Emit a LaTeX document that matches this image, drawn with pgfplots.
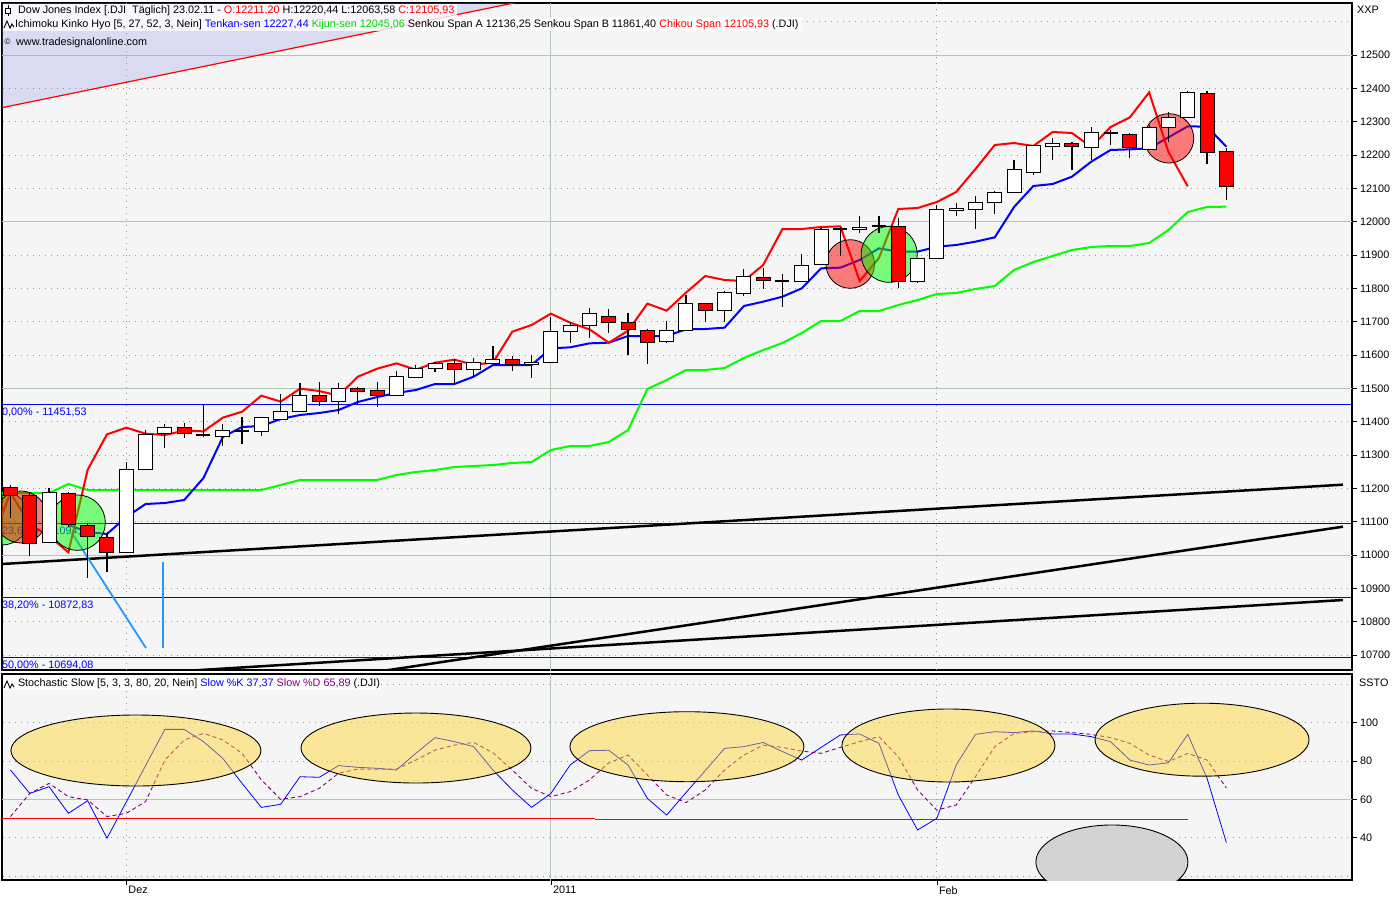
\documentclass[border=0pt]{standalone}
\usepackage{fontspec}
\setmainfont{Liberation Sans}
\usepackage{pgfplots}
\pgfplotsset{compat=1.18}
\usepackage{pgfplotstable}

\definecolor{bgc}{RGB}{245,245,245}
\definecolor{gridc}{RGB}{178,198,178}
\definecolor{dotc}{RGB}{150,150,150}
\definecolor{kijun}{RGB}{0,255,0}
\definecolor{kijuntext}{RGB}{0,215,0}
\definecolor{lav}{RGB}{140,140,230}
\definecolor{lblue}{RGB}{40,150,255}
\definecolor{ellc}{RGB}{255,213,40}
\definecolor{grayell}{RGB}{211,211,211}
\definecolor{dpurple}{RGB}{128,0,128}
\definecolor{fibblue}{RGB}{0,0,255}

\newcommand\fs{\fontsize{10.8}{12}\selectfont}

\pgfdeclareplotmark{mwick}{\pgfpathmoveto{\pgfpointorigin}\pgfpathlineto{\pgfpoint{0pt}{-\wl}}\pgfusepathqstroke}
\pgfdeclareplotmark{mbody}{\pgfpathrectangle{\pgfpoint{-7pt}{0pt}}{\pgfpoint{14pt}{-\bh}}\pgfusepathqfillstroke}
\pgfdeclareplotmark{mdoji}{\pgfpathmoveto{\pgfpoint{-7pt}{0pt}}\pgfpathlineto{\pgfpoint{7pt}{0pt}}\pgfusepathqstroke}

\pgfplotsset{
  cwick/.style={scatter, only marks, mark=mwick, point meta=\thisrow{H},
    scatter/@pre marker code/.code={}, scatter/@post marker code/.code={},
    visualization depends on={(\thisrow{H}-\thisrow{L})/3 \as \wl},
    mark options={draw=black, line width=1.2pt}},
  cbody/.style={scatter, only marks, mark=mbody, point meta=\thisrow{C},
    scatter/@pre marker code/.code={}, scatter/@post marker code/.code={},
    visualization depends on={max(abs(\thisrow{C}-\thisrow{O})/3,1.5) \as \bh},
    mark options={draw=black, fill=#1, line width=1pt}},
  cdoji/.style={scatter, only marks, mark=mdoji, point meta=\thisrow{C},
    scatter/@pre marker code/.code={}, scatter/@post marker code/.code={},
    mark options={draw=black, line width=2pt}},
}

% Candles: index 0 = 1 Dec 2010
\pgfplotstableread{
i O H L C
-4 11037 11200 11036 11187
0 11008 11278 11008 11256
1 11256 11376 11256 11362
2 11364 11392 11320 11382
5 11355 11392 11327 11373
7 11372 11415 11357 11412
8 11407 11482 11407 11430
9 11430 11515 11428 11478
11 11460 11517 11424 11499
14 11478 11551 11478 11535
15 11532 11569 11530 11559
16 11559 11580 11550 11575
18 11556 11592 11537 11577
19 11574 11627 11574 11586
21 11571 11599 11531 11577
22 11577 11713 11577 11670
23 11670 11699 11637 11690
24 11689 11742 11651 11724
28 11640 11703 11637 11673
29 11673 11781 11673 11754
31 11733 11793 11699 11787
32 11784 11858 11776 11837
35 11822 11903 11822 11870
36 11873 11980 11873 11978
38 11978 12017 11966 11984
41 11822 11891 11816 11891
42 11891 12050 11891 12038
43 12035 12056 12016 12041
44 12038 12078 11978 12059
45 12059 12092 12023 12089
46 12089 12185 12089 12158
47 12149 12230 12140 12230
48 12227 12251 12184 12236
50 12224 12284 12184 12269
53 12218 12290 12218 12284
54 12284 12328 12240 12313
55 12313 12391 12313 12388
}\upc
\pgfplotstableread{
i O H L C
-6 11203 11210 11111 11178
-5 11178 11190 10997 11036
-3 11186 11190 11085 11092
-2 11088 11095 10931 11057
-1 11054 11066 10949 11008
3 11382 11395 11352 11364
10 11478 11520 11447 11460
12 11499 11505 11449 11492
13 11493 11520 11445 11478
17 11575 11587 11517 11556
20 11586 11597 11552 11571
25 11717 11737 11667 11697
26 11697 11727 11601 11677
27 11673 11679 11573 11637
30 11754 11757 11699 11733
33 11834 11861 11799 11825
40 11986 12011 11802 11822
49 12236 12240 12154 12227
52 12263 12265 12191 12224
56 12385 12391 12173 12209
57 12211 12220 12064 12106
}\downc
\pgfplotstableread{
i O H L C
4 11360 11452 11355 11360
6 11372 11415 11332 11372
34 11822 11843 11745 11822
37 11978 11985 11897 11978
39 11986 12017 11966 11986
51 12266 12275 12230 12266
}\dojic

\pgfplotstableread{
i v
-3 11090
-2 11069
-1 11063
0 11114
1 11153
2 11156
3 11165
4 11231
5 11354
6 11384
7 11387
8 11408
9 11420
10 11426
11 11435
12 11459
13 11474
14 11486
15 11495
16 11513
17 11513
18 11535
19 11570
20 11570
21 11570
22 11620
23 11623
24 11635
25 11637
26 11657
27 11657
28 11657
29 11677
30 11678
31 11682
32 11747
33 11760
34 11775
35 11800
36 11860
37 11862
38 11885
39 11920
40 11910
41 11910
42 11925
43 11930
44 11940
45 11953
46 12044
47 12107
48 12113
49 12135
50 12180
51 12215
52 12217
53 12220
54 12253
55 12286
56 12285
57 12225
}\tenkan

\pgfplotstableread{
i v
-7 11186
-4 11186
-3 11213
-2 11195
7 11195
8 11210
9 11225
13 11225
14 11240
15 11249
16 11255
17 11264
18 11267
19 11270
20 11276
21 11279
22 11315
23 11327
24 11327
25 11339
26 11375
27 11498
28 11525
29 11555
30 11555
31 11561
32 11591
33 11615
34 11636
35 11666
36 11702
37 11702
38 11732
39 11732
40 11750
41 11765
42 11783
43 11786
44 11798
45 11807
46 11855
47 11879
48 11897
49 11915
50 11924
51 11927
52 11927
53 11936
54 11975
55 12029
56 12044
57 12045
}\kijun

\pgfplotstableread{
i v
-7 11036
-6 11187
-5 11092
-4 11057
-3 11008
-2 11256
-1 11362
0 11382
1 11364
2 11360
3 11373
4 11371
5 11412
6 11430
7 11478
8 11460
9 11499
10 11492
11 11478
12 11535
13 11559
14 11575
15 11556
16 11577
17 11586
18 11571
19 11577
20 11670
21 11690
22 11724
23 11697
24 11677
25 11637
26 11673
27 11754
28 11733
29 11787
30 11837
31 11825
32 11822
33 11870
34 11978
35 11978
36 11984
37 11986
38 11822
39 11891
40 12038
41 12041
42 12059
43 12089
44 12158
45 12230
46 12236
47 12227
48 12269
49 12266
50 12224
51 12284
52 12313
53 12388
54 12209
55 12106
}\chikou

\pgfplotstableread{
i k d
-6 75.3 51.0
-5 63.1 63.1
-4 66.6 68.3
-3 52.7 61.4
-2 59.3 59.7
-1 39.7 51.0
0 58.6 52.7
1 77.6 58.8
2 96.5 80.5
3 96.5 91.0
4 90.1 94.4
5 81.4 91.0
6 68.3 84.0
7 55.8 70.1
8 57.4 60.0
9 71.8 61.4
10 71.5 65.7
11 77.6 73.6
12 76.7 75.8
13 76.2 75.8
14 75.3 75.8
15 84.0 80.5
16 92.2 85.7
17 90.1 88.3
18 87.5 89.7
19 75.3 84.3
20 64.9 75.3
21 55.8 65.7
22 63.1 61.4
23 77.9 64.0
24 85.4 70.1
25 85.6 79.0
26 77.9 83.1
27 60.5 72.7
28 51.8 62.3
29 63.5 58.3
30 75.0 64.9
31 86.6 75.3
32 87.5 83.1
33 89.7 88.3
34 84.9 87.1
35 80.5 85.2
36 87.1 84.0
37 93.6 87.1
38 94.1 90.1
39 89.2 92.7
40 62.3 82.3
41 44.0 64.9
42 50.1 54.4
43 77.9 57.0
44 93.9 71.8
45 95.3 87.5
46 94.8 94.4
47 95.7 95.3
48 94.1 95.7
49 94.1 94.8
50 92.7 93.9
51 90.1 92.2
52 80.5 89.2
53 77.9 83.1
54 79.1 79.7
55 93.9 84.0
56 71.0 80.5
57 37.4 65.9
}\stoch

\begin{document}
\begin{tikzpicture}
\fill[white] (0pt,0pt) rectangle (1400pt,-900pt);
\path[use as bounding box] (0pt,0pt) rectangle (1400pt,-900pt);

% ---------------- upper panel ----------------
\begin{axis}[
  at={(2pt,-3pt)}, anchor=north west,
  scale only axis, width=1350pt, height=667pt,
  xmin=-6.44, xmax=63.51, ymin=10655, ymax=12656,
  axis background/.style={fill=bgc},
  axis line style={black, line width=1.2pt},
  xtick=\empty,
  ytick={10700,10800,...,12500},
  scaled y ticks=false,
  ytick pos=right, yticklabel pos=right,
  tick align=outside, major tick length=5pt,
  tick style={black, line width=0.6pt},
  yticklabel style={font=\fs, /pgf/number format/fixed, /pgf/number format/1000 sep={}, /pgf/number format/assume math mode=true, anchor=west, inner sep=0pt, xshift=3pt},
]
% grid
\pgfplotsinvokeforeach{10700,10800,10900,11100,11200,11300,11400,11600,11700,11800,11900,12100,12200,12300,12400,12600}{
  \draw[dotc, line width=0.8pt, dash pattern=on 1pt off 5pt] (axis cs:-7,#1) -- (axis cs:64,#1);}
\pgfplotsinvokeforeach{11000,11500,12000,12500}{
  \draw[gridc, line width=1pt] (axis cs:-7,#1) -- (axis cs:64,#1);}
\draw[dotc, line width=0.8pt, dash pattern=on 1pt off 5pt] (axis cs:0,10600) -- (axis cs:0,12700);
\draw[dotc, line width=0.8pt, dash pattern=on 1pt off 5pt] (axis cs:42,10600) -- (axis cs:42,12700);
\draw[gridc, line width=1pt] (axis cs:22,10600) -- (axis cs:22,12700);

% lavender channel top-left
\fill[lav, fill opacity=0.25] (axis cs:-6.44,12342) -- (axis cs:20.92,12666) -- (axis cs:-6.44,12666) -- cycle;
\draw[red, line width=1.2pt] (axis cs:-6.44,12342) -- (axis cs:20.92,12666);

% Fibonacci lines
\pgfplotsinvokeforeach{11451.53,11094.01,10872.83,10694.08}{
  \draw[fibblue, line width=0.9pt] (axis cs:-7,#1) -- (axis cs:64,#1);}
\node[anchor=west, inner sep=0pt, text=fibblue, font=\fs] at (axis cs:-6.44,11451.53) [yshift=-8pt] {0,00\% - 11451,53};
\node[anchor=west, inner sep=0pt, text=fibblue, font=\fs] at (axis cs:-6.44,11094.01) [yshift=-8pt] {23,60\% - 11094,01};
\node[anchor=west, inner sep=0pt, text=fibblue, font=\fs] at (axis cs:-6.44,10872.83) [yshift=-8pt] {38,20\% - 10872,83};
\node[anchor=west, inner sep=0pt, text=fibblue, font=\fs] at (axis cs:-6.44,10694.08) [yshift=-8pt] {50,00\% - 10694,08};

% trend lines
\draw[black, line width=2.5pt] (axis cs:-6.44,10973) -- (axis cs:63.04,11211);
\draw[black, line width=2.5pt] (axis cs:12,10641) -- (axis cs:63.04,11085);
\draw[black, line width=2.5pt] (axis cs:2,10648.5) -- (axis cs:63.04,10865);

% light blue marks
\draw[lblue, line width=1.8pt] (axis cs:-2.82,11066) -- (axis cs:1.02,10721);
\draw[lblue, line width=1.8pt] (axis cs:1.90,10979) -- (axis cs:1.90,10721);

% Ichimoku lines
\addplot[kijun, line width=2pt] table[x=i,y=v]{\kijun};
\addplot[blue, line width=2pt] table[x=i,y=v]{\tenkan};
\addplot[red, line width=2pt] table[x=i,y=v]{\chikou};

% candles
\addplot[cwick] table[x=i,y=H]{\upc};
\addplot[cwick] table[x=i,y=H]{\downc};
\addplot[cwick] table[x=i,y=H]{\dojic};
\addplot[cbody=white] table[x=i,y expr={max(\thisrow{O},\thisrow{C})}]{\upc};
\addplot[cbody=red] table[x=i,y expr={max(\thisrow{O},\thisrow{C})}]{\downc};
\addplot[cdoji] table[x=i,y=C]{\dojic};

% circles
\path[fill=green, fill opacity=0.5, draw=black, line width=0.8pt] (axis cs:-6.44,11111) circle[radius=27pt];
\path[fill=red, fill opacity=0.5, draw=black, line width=0.8pt] (axis cs:-5.46,11114) circle[radius=26pt];
\path[fill=green, fill opacity=0.5, draw=black, line width=0.8pt] (axis cs:-2.52,11097) circle[radius=27.7pt];
\path[fill=red, fill opacity=0.5, draw=black, line width=0.8pt] (axis cs:37.51,11873) circle[radius=24.3pt];
\path[fill=green, fill opacity=0.5, draw=black, line width=0.8pt] (axis cs:39.53,11902) circle[radius=28pt];
\path[fill=red, fill opacity=0.5, draw=black, line width=0.8pt] (axis cs:54.03,12250) circle[radius=24.7pt];
\end{axis}

% ---------------- lower panel ----------------
\begin{axis}[
  at={(2pt,-674pt)}, anchor=north west,
  scale only axis, width=1350pt, height=206pt,
  xmin=-6.44, xmax=63.51, ymin=17.9, ymax=125.4,
  axis background/.style={fill=bgc},
  axis line style={black, line width=1.2pt},
  xtick={0,22,42}, xticklabels={Dez,2011,Feb}, xtick pos=bottom,
  ytick={40,60,80,100},
  ytick pos=right, yticklabel pos=right,
  tick align=outside, major tick length=5pt,
  tick style={black, line width=0.6pt},
  yticklabel style={font=\fs, /pgf/number format/assume math mode=true, anchor=west, inner sep=0pt, xshift=3pt},
  xticklabel style={font=\fs, anchor=north west, inner sep=0pt, xshift=2pt, yshift=-1pt},
]
\pgfplotsinvokeforeach{20,40,80,100,120}{
  \draw[dotc, line width=0.8pt, dash pattern=on 1pt off 5pt] (axis cs:-7,#1) -- (axis cs:64,#1);}
\draw[gridc, line width=1pt] (axis cs:-7,60) -- (axis cs:64,60);
\draw[dotc, line width=0.8pt, dash pattern=on 1pt off 5pt] (axis cs:0,0) -- (axis cs:0,130);
\draw[dotc, line width=0.8pt, dash pattern=on 1pt off 5pt] (axis cs:42,0) -- (axis cs:42,130);
\draw[gridc, line width=1pt] (axis cs:22,0) -- (axis cs:22,130);

\addplot[red, line width=1.5pt] coordinates {(-6.44,50.0) (24.28,50.0)};
\addplot[red, line width=1pt] coordinates {(24.28,49.47) (55.01,49.47)};

\addplot[blue, line width=0.8pt] table[x=i,y=k]{\stoch};
\addplot[dpurple, line width=0.9pt, dash pattern=on 4pt off 3pt] table[x=i,y=d]{\stoch};

\path[fill=ellc, fill opacity=0.45, draw=black, line width=0.9pt] (axis cs:0.50,85.48) ellipse[x radius=125pt, y radius=35.5pt];
\path[fill=ellc, fill opacity=0.45, draw=black, line width=0.9pt] (axis cs:15.01,86.78) ellipse[x radius=115pt, y radius=35pt];
\path[fill=ellc, fill opacity=0.45, draw=black, line width=0.9pt] (axis cs:29.05,87.46) ellipse[x radius=117pt, y radius=35pt];
\path[fill=ellc, fill opacity=0.45, draw=black, line width=0.9pt] (axis cs:42.60,88.09) ellipse[x radius=106.5pt, y radius=36.5pt];
\path[fill=ellc, fill opacity=0.45, draw=black, line width=0.9pt] (axis cs:55.74,91.12) ellipse[x radius=107pt, y radius=36.5pt];
\path[fill=grayell, draw=black, line width=0.9pt] (axis cs:51.07,27.3) ellipse[x radius=76pt, y radius=37pt];
\end{axis}

% ---------------- texts ----------------
\fill[white, fill opacity=0.8] (2.6pt,-3.6pt) rectangle (457pt,-17pt);
\fill[white, fill opacity=0.8] (2.6pt,-17pt) rectangle (802pt,-31pt);
\draw[black, line width=0.8pt] (8pt,-5pt) -- (8pt,-16pt);
\filldraw[fill=white, draw=black, line width=0.8pt] (5.5pt,-8pt) rectangle (10.5pt,-13pt);
\node[anchor=base west, inner sep=0pt, font=\fs] at (18pt,-13.6pt) {Dow Jones Index [.DJI\ \ Täglich] 23.02.11 - \textcolor{red}{O:12211,20} H:12220,44 L:12063,58 \textcolor{red}{C:12105,93}};
\draw[black, line width=0.9pt] (4pt,-28pt) -- (7pt,-21pt) -- (10pt,-28pt) -- (12pt,-24pt) -- (14pt,-27pt);
\node[anchor=base west, inner sep=0pt, font=\fs] at (15pt,-27.6pt) {Ichimoku Kinko Hyo [5, 27, 52, 3, Nein] \textcolor{blue}{Tenkan-sen 12227,44} \textcolor{kijuntext}{Kijun-sen 12045,06} Senkou Span A 12136,25 Senkou Span B 11861,40 \textcolor{red}{Chikou Span 12105,93} (.DJI)};
\node[anchor=base west, inner sep=0pt, font=\fontsize{8}{9}\selectfont] at (4.5pt,-44pt) {©};
\node[anchor=base west, inner sep=0pt, font=\fs] at (16pt,-45pt) {www.tradesignalonline.com};
\node[anchor=base west, inner sep=0pt, font=\fs] at (1357pt,-13pt) {XXP};

\fill[white, fill opacity=0.9] (2.6pt,-675pt) rectangle (380pt,-690pt);
\draw[black, line width=0.9pt] (4pt,-688pt) -- (7pt,-681pt) -- (10pt,-688pt) -- (12pt,-684pt) -- (14pt,-687pt);
\node[anchor=base west, inner sep=0pt, font=\fs] at (17.8pt,-686.7pt) {Stochastic Slow [5, 3, 3, 80, 20, Nein] \textcolor{blue}{Slow \%K 37,37} \textcolor{dpurple}{Slow \%D 65,89} (.DJI)};
\node[anchor=base west, inner sep=0pt, font=\fs] at (1359pt,-686pt) {SSTO};
\end{tikzpicture}
\end{document}
